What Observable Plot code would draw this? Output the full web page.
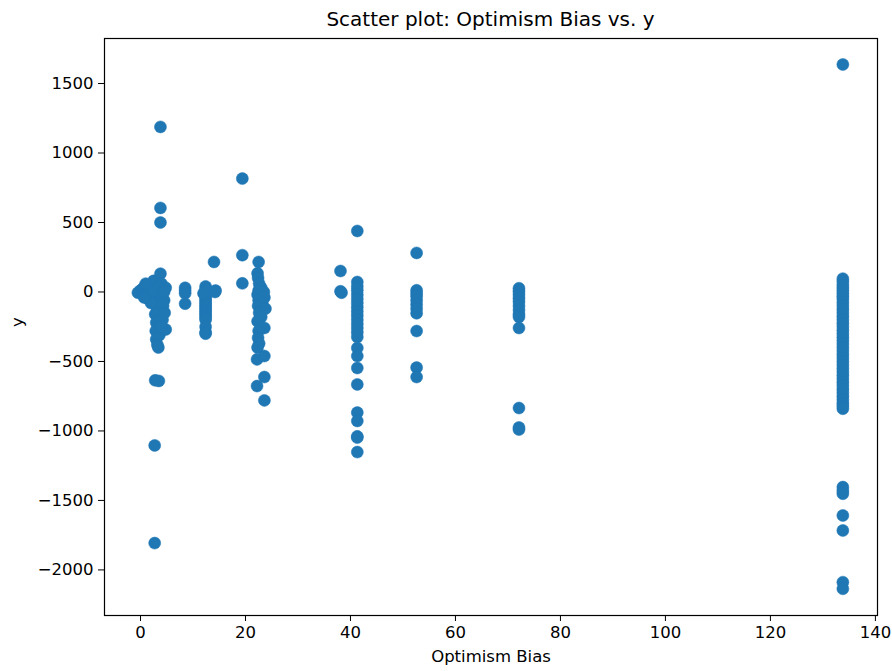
<!DOCTYPE html>
<html>
<head>
<meta charset="utf-8">
<script src="https://cdn.jsdelivr.net/npm/d3@7"></script>
<script src="https://cdn.jsdelivr.net/npm/@observablehq/plot@0.6"></script>
<style>
  body { margin: 0; background: #fff; }
  #wrap { position: relative; width: 892px; height: 671px; font-family: "DejaVu Sans", sans-serif; }
  #title { position: absolute; top: 0; left: 104px; width: 773px; height: 38px; line-height: 38px; text-align: center; font-size: 20px; color: #000; }
</style>
</head>
<body>
<div id="wrap"><div id="title">Scatter plot: Optimism Bias vs. y</div></div>
<script>
// Data: [Optimism Bias, y] pairs by cluster
const nearZero = [[0,0],[0,10],[-0.5,-5],[0.3,20],[0.8,40],[1,-10],[1.2,5],[0.5,-20],[1.5,30],[1.8,-30],[2,50],[2.2,-50],[2.5,80],[2.7,-70],[3,-100],[3.2,-130],[2.8,-160],[3.5,-190],[3,-220],[3.3,-250],[2.9,-280],[3.6,-310],[3,-340],[3.2,-380],[3.4,-400],[3.8,132],[4,60],[4.2,20],[4,-20],[4.5,-60],[4.3,-100],[4.6,-150],[4.2,-200],[4.8,-270],[4,-250],[1,60],[1.5,-50],[2,-80],[0.7,-40],[2.5,10],[3.5,40],[4.8,30],[4.5,0],[3.8,1188],[3.8,605],[3.8,500],[2.8,-636],[3.5,-640],[2.7,-1104],[2.7,-1807]];
const nearEight = [[8.5,30],[8.5,10],[8.5,-10],[8.5,-84]];
const nearTwelve = [[12.4,40],[12.4,20],[12.4,0],[12.4,-20],[12.4,-35],[12.4,-50],[12.4,-65],[12.4,-80],[12.4,-95],[12.4,-110],[12.4,-125],[12.4,-140],[12.4,-155],[12.4,-170],[12.4,-185],[12.4,-200],[12.4,-250],[12.4,-290],[12.4,-300],[12,-10],[12.8,10],[14.3,10],[14,216],[14.2,0]];
const nearTwenty = [[19.4,816],[19.4,265],[19.4,62]];
const nearTwentyTwo = [[22.5,216],[22.3,134],[22.4,100],[22.6,60],[23,30],[22.5,10],[23.5,0],[22.3,-20],[23.6,-40],[22.5,-60],[23.2,-80],[22.4,-100],[23.8,-120],[22.6,-150],[23,-180],[22.3,-210],[23.6,-259],[22.5,-280],[22.4,-330],[22.6,-370],[22.3,-400],[22.2,-485],[23.6,-461],[23.6,-612],[22.2,-677],[23.6,-780]];
const nearForty = [[38.1,151],[38.1,5],[38.3,-5],[41.3,439],[41.3,72],[41.3,40],[41.3,12],[41.3,-20],[41.3,-50],[41.3,-80],[41.3,-110],[41.3,-140],[41.3,-170],[41.3,-200],[41.3,-230],[41.3,-260],[41.3,-290],[41.3,-324],[41.3,-403],[41.3,-461],[41.3,-547],[41.3,-665],[41.3,-868],[41.3,-928],[41.3,-1039],[41.3,-1048],[41.3,-1152]];
const nearFiftyThree = [[52.6,281],[52.6,12],[52.6,-10],[52.6,-30],[52.6,-60],[52.6,-90],[52.6,-120],[52.6,-153],[52.6,-281],[52.6,-544],[52.6,-612]];
const nearSeventyTwo = [[72.1,27],[72.1,5],[72.1,-20],[72.1,-45],[72.1,-70],[72.1,-100],[72.1,-130],[72.1,-160],[72.1,-180],[72.1,-259],[72.1,-835],[72.1,-975],[72.1,-990]];
const col134Y = [1637,96,75,50,30,10,-10,-30,-50,-75,-100,-125,-150,-175,-200,-225,-250,-275,-300,-325,-350,-375,-400,-425,-450,-475,-500,-525,-550,-575,-600,-625,-650,-675,-700,-725,-750,-775,-800,-820,-840,-1404,-1430,-1452,-1608,-1716,-2088,-2136];
const xTicks = [0,20,40,60,80,100,120,140];
const yTicks = [-2000,-1500,-1000,-500,0,500,1000,1500];

const points = [
  ...nearZero, ...nearEight, ...nearTwelve, ...nearTwenty, ...nearTwentyTwo,
  ...nearForty, ...nearFiftyThree, ...nearSeventyTwo,
  ...col134Y.map(v => [133.8, v])
].map(([x, y]) => ({x, y}));

const chart = Plot.plot({
  width: 892,
  height: 671,
  marginTop: 38,
  marginRight: 15,
  marginBottom: 56,
  marginLeft: 104,
  style: { fontFamily: "DejaVu Sans, sans-serif", fontSize: "16.5px", color: "#000", background: "transparent" },
  x: { domain: [-6.86, 140.4] },
  y: { domain: [-2328, 1824] },
  marks: [
    Plot.dot(points, { x: "x", y: "y", r: 6, fill: "#1f77b4", stroke: "#1f77b4", strokeWidth: 0.5 }),
    Plot.frame({ stroke: "#000", strokeWidth: 1.2 }),
    Plot.axisX({ ticks: xTicks, tickSize: 6, tickPadding: 5, label: null, tickFormat: d3.format("d") }),
    Plot.axisY({ ticks: yTicks, tickSize: 6, tickPadding: 5, label: null, tickFormat: d3.format("d") }),
    Plot.text(["Optimism Bias"], { frameAnchor: "bottom", dy: 46, fontSize: 16.5, fill: "#000" }),
    Plot.text(["y"], { frameAnchor: "left", rotate: -90, dx: -87, fontSize: 16.5, fill: "#000" })
  ]
});
chart.style.position = "absolute";
chart.style.left = "0";
chart.style.top = "0";
document.getElementById("wrap").appendChild(chart);
</script>
</body>
</html>
